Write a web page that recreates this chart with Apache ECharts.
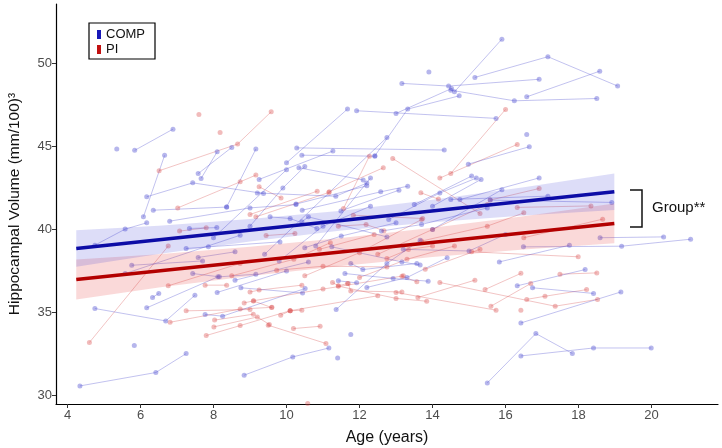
<!DOCTYPE html>
<html>
<head>
<meta charset="utf-8">
<script src="https://cdn.jsdelivr.net/npm/echarts@6/dist/echarts.min.js"></script>
<style>html,body{margin:0;padding:0;background:#fff;}#c{width:722px;height:448px;}</style>
</head>
<body>
<div id="c"></div>
<script>
// ---- Data (age in years, volume in (mm/100)^3) ----
const xTicks = [4, 6, 8, 10, 12, 14, 16, 18, 20];
const yTicks = [30, 35, 40, 45, 50];

const compSubjects = [
  [[4.34,30.56],[6.42,31.37],[7.25,32.51]],
  [[4.75,35.23],[6.69,34.48],[7.49,36.03]],
  [[5.83,33.0]],
  [[6.17,35.27],[8.12,37.14]],
  [[6.33,35.9],[6.5,36.14]],
  [[5.35,44.85]],
  [[5.84,44.77],[6.89,46.05]],
  [[6.08,40.76],[6.66,44.47]],
  [[6.17,41.97],[7.43,42.81],[9.37,42.17]],
  [[7.58,43.37],[8.5,44.95]],
  [[7.66,43.08],[8.1,44.68]],
  [[6.35,41.16],[8.36,41.35]],
  [[4.75,39.05],[5.58,40.02],[6.17,40.4]],
  [[5.58,37.34],[8.73,39.65]],
  [[5.76,37.84],[7.7,38.1]],
  [[8.36,41.36],[9.16,44.85]],
  [[10.28,44.92],[14.32,44.79]],
  [[10.42,44.48],[12.42,44.42]],
  [[12.42,44.44],[13.32,47.26],[14.73,48.06]],
  [[10.0,44.02],[11.67,47.26]],
  [[11.92,47.16],[15.74,46.7]],
  [[13.0,47.0],[14.52,48.5]],
  [[13.9,49.5]],
  [[13.16,48.81],[14.44,48.65],[16.92,49.06]],
  [[15.16,49.17],[17.16,50.42],[19.07,48.65]],
  [[14.6,48.3],[15.9,51.48]],
  [[16.58,48.0],[18.58,49.55]],
  [[14.5,48.4],[16.24,47.76],[18.5,47.9]],
  [[10.34,43.72],[12.1,42.98]],
  [[10.26,41.53],[12.2,42.63]],
  [[10.43,41.16],[12.58,42.27],[13.32,42.61]],
  [[11.49,41.12],[13.08,42.37]],
  [[14.98,43.94],[16.65,44.99]],
  [[13.5,41.5],[15.07,43.22]],
  [[14.0,41.4],[15.33,43.02]],
  [[14.75,41.8],[16.92,43.11]],
  [[15.58,41.77],[18.91,41.63]],
  [[14.5,41.81],[17.16,42.01]],
  [[18.59,39.5],[20.33,39.55]],
  [[16.49,38.95],[19.18,38.99],[21.07,39.41]],
  [[15.83,38.04],[17.75,39.05]],
  [[16.32,36.6],[18.18,37.58]],
  [[16.74,36.48],[18.41,36.14]],
  [[16.42,34.36],[19.16,36.23]],
  [[15.5,30.74],[16.83,33.72],[17.83,32.52]],
  [[16.42,32.37],[18.41,32.85],[19.99,32.85]],
  [[8.84,31.21],[10.17,32.31],[11.16,32.85]],
  [[11.4,32.25]],
  [[11.76,33.66]],
  [[11.36,35.17],[12.75,37.95],[13.66,39.35]],
  [[7.34,40.06],[8.09,40.11]],
  [[7.25,38.85],[7.86,38.95],[9.82,39.25]],
  [[7.58,38.31],[8.59,38.65]],
  [[7.43,37.34],[8.16,37.14],[9.16,37.3]],
  [[8.59,36.94],[10.6,38.04]],
  [[8.75,36.48],[10.44,36.17]],
  [[7.77,34.87],[8.25,34.77],[10.51,36.44]],
  [[9.55,40.76],[10.1,40.66],[10.83,40.06]],
  [[10.42,40.46],[10.6,40.76],[12.75,39.55]],
  [[11.24,38.95],[13.16,38.04],[13.66,37.85]],
  [[11.76,37.95],[12.09,37.58],[13.57,37.95]],
  [[11.6,37.34],[12.92,37.04],[13.88,36.88]],
  [[11.42,36.9],[11.92,36.78]],
  [[8.0,39.5],[10.0,43.6]],
  [[9.0,40.2],[9.9,42.5],[10.5,43.8]],
  [[9.4,38.5],[12.75,45.55]],
  [[10.8,39.0],[12.3,43.1]],
  [[12.8,40.6],[14.2,42.2],[15.2,43.1]],
  [[14.0,40.0],[15.9,42.4]],
  [[9.25,43.02],[11.27,44.73]],
  [[9.2,42.2],[11.35,42.0],[12.2,42.8]],
  [[13.2,38.8],[15.0,38.7],[16.0,39.7]],
  [[6.8,40.5],[9.0,41.3],[10.26,41.5]],
  [[12.6,39.9],[13.7,40.3],[15.5,41.3]],
  [[16.58,45.73]],
  [[9.8,38.1],[11.0,40.2],[12.3,41.4]],
  [[10.5,38.9],[11.5,39.6],[13.0,40.4]],
  [[12.2,36.5],[13.3,37.1],[14.4,38.3]],
  [[8.1,36.2],[10.0,37.5]]
];

const piSubjects = [
  [[4.6,33.18],[6.76,39.0]],
  [[6.51,43.54],[8.66,45.15],[9.58,47.1]],
  [[7.6,46.94]],
  [[8.18,45.85]],
  [[7.02,41.3],[8.73,42.87],[9.16,43.28]],
  [[6.76,36.6],[8.73,37.95]],
  [[6.81,34.4],[8.73,35.2],[9.6,35.3]],
  [[7.8,33.6],[8.73,34.2],[10.1,35.1]],
  [[8.03,34.53],[9.09,34.89]],
  [[7.25,35.09],[9.0,35.17]],
  [[8.01,34.12],[9.2,34.72],[9.53,34.27]],
  [[9.5,34.22],[11.08,33.12]],
  [[10.19,34.02],[10.92,34.16]],
  [[10.58,29.5]],
  [[7.77,36.64],[8.36,36.64]],
  [[9.0,36.23],[9.25,36.34],[10.42,36.64]],
  [[11.26,36.8],[11.42,36.6],[11.67,36.74]],
  [[8.84,35.57],[9.09,35.69],[9.59,35.29]],
  [[9.84,34.83],[10.1,35.09],[10.42,35.13]],
  [[11.56,41.27],[12.27,44.42]],
  [[12.91,44.28],[15.3,40.96]],
  [[11.17,42.27],[12.65,43.72]],
  [[14.5,43.38],[16.0,47.24]],
  [[14.2,43.1],[16.32,45.13]],
  [[15.58,41.77],[16.92,42.47]],
  [[16.32,41.33],[18.34,41.42]],
  [[15.07,38.65],[17.99,38.35]],
  [[15.44,36.38],[16.42,37.35]],
  [[13.6,35.9],[15.16,36.94]],
  [[17.49,37.3],[18.5,37.38]],
  [[16.58,35.78],[17.08,35.97],[18.22,36.37]],
  [[15.6,35.37],[16.69,36.74]],
  [[13.0,36.2],[15.74,35.13]],
  [[16.42,35.13]],
  [[14.2,36.8],[17.36,35.37],[18.52,35.78]],
  [[9.25,42.57],[9.85,41.9]],
  [[9.0,40.9],[10.84,42.31]],
  [[9.16,40.76],[11.16,42.23]],
  [[13.68,42.21],[14.16,41.83]],
  [[11.83,40.86],[13.73,40.66]],
  [[9.44,39.63],[10.23,39.76]],
  [[9.73,37.54],[11.0,37.78],[12.75,37.74]],
  [[11.42,40.2],[12.18,40.3],[12.67,39.92]],
  [[12.75,38.25],[13.34,38.79],[14.0,39.0]],
  [[13.16,37.18],[13.57,36.84]],
  [[11.69,36.74],[11.76,36.29],[13.16,36.23]],
  [[11.42,36.58],[13.0,35.84],[13.84,35.67]],
  [[7.07,39.9],[7.8,40.1]],
  [[12.5,38.5],[14.0,40.0],[15.5,41.5]],
  [[10.5,37.2],[12.0,38.6],[13.7,40.6]],
  [[13.7,39.3],[15.5,40.2],[16.5,41.0]],
  [[16.5,39.5],[18.66,40.62]],
  [[9.1,35.7],[11.0,36.4],[13.2,37.2]],
  [[10.1,35.1],[12.5,36.0]],
  [[8.5,37.2],[10.2,38.2],[11.2,39.2]],
  [[12.0,37.1],[13.3,38.2],[14.6,39.0]],
  [[13.8,37.6],[15.3,38.8]],
  [[10.9,38.8],[12.4,39.7]]
];

// Fitted group lines and confidence bands
const fitAge = [4.24, 18.98];
const compFitVol = [38.85, 42.27];
const piFitVol = [36.98, 40.36];
const bandAge = [4.24, 6.5, 9, 11.5, 14, 16.5, 18.98];
const compLower = [37.75, 38.52, 39.27, 39.93, 40.43, 40.84, 41.17];
const compUpper = [39.95, 40.22, 40.63, 41.13, 41.79, 42.54, 43.37];
const piLower = [35.78, 36.5, 37.19, 37.79, 38.34, 38.79, 39.16];
const piUpper = [38.18, 38.5, 38.95, 39.49, 40.1, 40.79, 41.56];

// ---- Styles ----
const FONT = 'Liberation Sans, Arial, Helvetica, sans-serif';
const compLine = 'rgba(70,70,205,0.33)';
const compPt = 'rgba(80,80,210,0.42)';
const piLine = 'rgba(215,70,70,0.32)';
const piPt = 'rgba(220,85,85,0.40)';
const compFitColor = '#0c0ca6';
const piFitColor = '#b30000';

const series = [];
function addSubjects(list, name, lc, pc) {
  list.forEach(function (s) {
    series.push({
      type: 'line', name: name, data: s, silent: true, z: 2,
      symbol: 'circle', symbolSize: 5, showSymbol: true,
      lineStyle: { color: lc, width: 1 },
      itemStyle: { color: pc, borderWidth: 0 },
      emphasis: { disabled: true }
    });
  });
}
addSubjects(piSubjects, 'PI', piLine, piPt);
addSubjects(compSubjects, 'COMP', compLine, compPt);

function addBand(lower, upper, id, color) {
  series.push({
    type: 'custom', name: id, silent: true, z: 3,
    data: bandAge.map(function (a, i) { return [a, lower[i], upper[i]]; }),
    encode: { x: 0, y: [1, 2] },
    renderItem: function (params, api) {
      if (params.dataIndex !== 0) return null;
      const pts = [];
      for (let i = 0; i < bandAge.length; i++) pts.push(api.coord([bandAge[i], upper[i]]));
      for (let i = bandAge.length - 1; i >= 0; i--) pts.push(api.coord([bandAge[i], lower[i]]));
      return { type: 'polygon', shape: { points: pts }, style: { fill: color } };
    }
  });
}
addBand(piLower, piUpper, 'piBand', 'rgba(225,45,45,0.18)');
addBand(compLower, compUpper, 'compBand', 'rgba(45,45,210,0.16)');

series.push({
  type: 'line', name: 'PI', silent: true, z: 5, symbol: 'none',
  data: fitAge.map(function (a, i) { return [a, piFitVol[i]]; }),
  lineStyle: { color: piFitColor, width: 3.6 }
});
series.push({
  type: 'line', name: 'COMP', silent: true, z: 5, symbol: 'none',
  data: fitAge.map(function (a, i) { return [a, compFitVol[i]]; }),
  lineStyle: { color: compFitColor, width: 3.6 }
});

const chart = echarts.init(document.getElementById('c'), null, { renderer: 'canvas' });
chart.setOption({
  animation: false,
  backgroundColor: '#ffffff',
  grid: { left: 56, right: 4, top: 4, bottom: 44, containLabel: false, outerBoundsMode: 'none' },
  legend: {
    data: [
      { name: 'COMP', icon: 'rect', itemStyle: { color: '#1717b8' } },
      { name: 'PI', icon: 'rect', itemStyle: { color: '#c21010' } }
    ],
    orient: 'vertical', left: 89, top: 23,
    itemWidth: 4, itemHeight: 9, itemGap: 2,
    padding: [5, 10, 3, 8],
    borderColor: '#000', borderWidth: 1.2, borderRadius: 0,
    textStyle: { fontFamily: FONT, fontSize: 13, color: '#111' },
    selectedMode: false
  },
  xAxis: {
    type: 'value', min: 3.685, max: 21.82,
    splitLine: { show: false },
    axisLine: { show: true, onZero: false, lineStyle: { color: '#000', width: 1.2 } },
    axisTick: { show: true, length: 4, customValues: xTicks, lineStyle: { color: '#333' } },
    axisLabel: { customValues: xTicks, color: '#4d4d4d', fontSize: 13, fontFamily: FONT, margin: 5 },
    name: 'Age (years)', nameLocation: 'middle', nameGap: 26,
    nameTextStyle: { fontFamily: FONT, fontSize: 16, color: '#111' }
  },
  yAxis: {
    type: 'value', min: 29.47, max: 53.6,
    splitLine: { show: false },
    axisLine: { show: true, onZero: false, lineStyle: { color: '#000', width: 1.2 } },
    axisTick: { show: true, length: 4, customValues: yTicks, lineStyle: { color: '#333' } },
    axisLabel: { customValues: yTicks, color: '#4d4d4d', fontSize: 13, fontFamily: FONT, margin: 4 },
    name: 'Hippocampal Volume (mm/100)³', nameLocation: 'middle', nameGap: 33, nameRotate: 90,
    nameTextStyle: { fontFamily: FONT, fontSize: 15.5, color: '#111' }
  },
  series: series,
  graphic: [
    { type: 'polyline', shape: { points: [[630, 190], [642, 190], [642, 227], [630, 227]] },
      style: { stroke: '#111', lineWidth: 1.5, fill: null }, z: 10 },
    { type: 'text', left: 652, top: 200,
      style: { text: 'Group**', fontFamily: FONT, fontSize: 15, fill: '#111' }, z: 10 }
  ]
});
</script>
</body>
</html>
